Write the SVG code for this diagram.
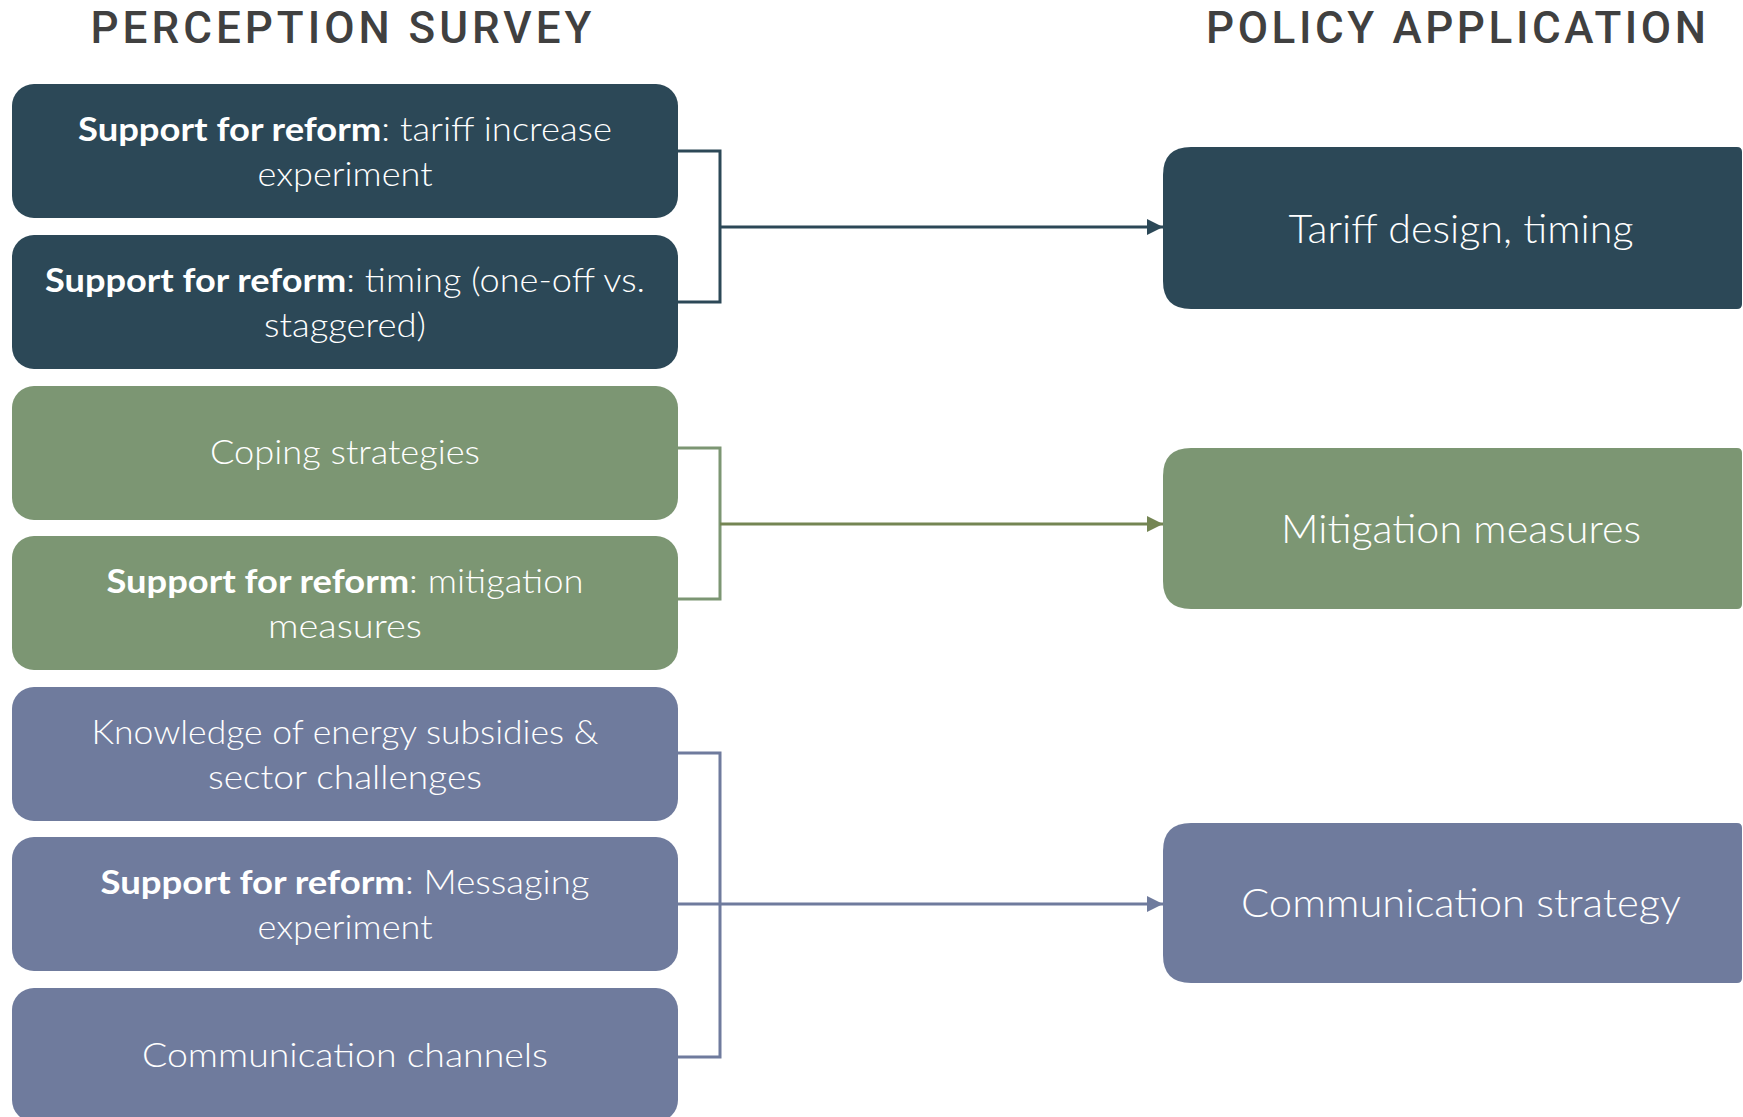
<svg xmlns="http://www.w3.org/2000/svg" width="1743" height="1117" viewBox="0 0 1743 1117">
<style>
  .title{font-family:Roboto,"Liberation Sans",sans-serif;font-size:44px;font-weight:500;fill:#404040;text-anchor:middle}
  .t{font-family:Lato,"Liberation Sans",sans-serif;font-size:33px;font-weight:300;fill:#ffffff;text-anchor:middle}
  .tr{font-family:Lato,"Liberation Sans",sans-serif;font-size:40px;font-weight:300;fill:#ffffff;text-anchor:middle}
  .b{font-weight:700}
  .teal{fill:#2C4857}
  .green{fill:#7C9673}
  .blue{fill:#6F7B9D}
  .con{fill:none;stroke-width:3}
</style>
<defs>
  <marker id="ahTeal" markerUnits="userSpaceOnUse" markerWidth="16" markerHeight="16" refX="16" refY="8" orient="auto"><path d="M0,0 L16,8 L0,16 Z" fill="#2C4857"/></marker>
  <marker id="ahGreen" markerUnits="userSpaceOnUse" markerWidth="16" markerHeight="16" refX="16" refY="8" orient="auto"><path d="M0,0 L16,8 L0,16 Z" fill="#748553"/></marker>
  <marker id="ahBlue" markerUnits="userSpaceOnUse" markerWidth="16" markerHeight="16" refX="16" refY="8" orient="auto"><path d="M0,0 L16,8 L0,16 Z" fill="#6F7B9D"/></marker>
</defs>

<text class="title" x="341" y="43" textLength="501" lengthAdjust="spacing">PERCEPTION SURVEY</text>
<text class="title" x="1456" y="43" textLength="500" lengthAdjust="spacing">POLICY APPLICATION</text>

<g id="connectors">
  <path class="con" stroke="#2C4857" d="M678 151 H720 V302 H678"/>
  <path class="con" stroke="#2C4857" stroke-width="3.5" d="M720 227 H1163" marker-end="url(#ahTeal)"/>
  <path class="con" stroke="#7C9673" d="M678 448 H720 V599 H678"/>
  <path class="con" stroke="#748553" stroke-width="3.5" d="M720 524 H1163" marker-end="url(#ahGreen)"/>
  <path class="con" stroke="#6F7B9D" d="M678 753 H720 V1057 H678"/>
  <path class="con" stroke="#6F7B9D" stroke-width="3.5" d="M678 904 H1163" marker-end="url(#ahBlue)"/>
</g>

<g id="s1">
  <rect class="teal" x="12" y="84" width="666" height="134" rx="22"/>
  <text class="t" x="345" y="141" textLength="534" lengthAdjust="spacingAndGlyphs"><tspan class="b">Support for reform</tspan>: tariff increase</text>
  <text class="t" x="345" y="186" textLength="175" lengthAdjust="spacingAndGlyphs">experiment</text>
</g>
<g id="s2">
  <rect class="teal" x="12" y="235" width="666" height="134" rx="22"/>
  <text class="t" x="345" y="292" textLength="600" lengthAdjust="spacingAndGlyphs"><tspan class="b">Support for reform</tspan>: timing (one-off vs.</text>
  <text class="t" x="345" y="337" textLength="162" lengthAdjust="spacingAndGlyphs">staggered)</text>
</g>
<g id="s3">
  <rect class="green" x="12" y="386" width="666" height="134" rx="22"/>
  <text class="t" x="345" y="464" textLength="270" lengthAdjust="spacingAndGlyphs">Coping strategies</text>
</g>
<g id="s4">
  <rect class="green" x="12" y="536" width="666" height="134" rx="22"/>
  <text class="t" x="345" y="593" textLength="477" lengthAdjust="spacingAndGlyphs"><tspan class="b">Support for reform</tspan>: mitigation</text>
  <text class="t" x="345" y="638" textLength="154" lengthAdjust="spacingAndGlyphs">measures</text>
</g>
<g id="s5">
  <rect class="blue" x="12" y="687" width="666" height="134" rx="22"/>
  <text class="t" x="345" y="744" textLength="507" lengthAdjust="spacingAndGlyphs">Knowledge of energy subsidies &amp;</text>
  <text class="t" x="345" y="789" textLength="274" lengthAdjust="spacingAndGlyphs">sector challenges</text>
</g>
<g id="s6">
  <rect class="blue" x="12" y="837" width="666" height="134" rx="22"/>
  <text class="t" x="345" y="894" textLength="489" lengthAdjust="spacingAndGlyphs"><tspan class="b">Support for reform</tspan>: Messaging</text>
  <text class="t" x="345" y="939" textLength="175" lengthAdjust="spacingAndGlyphs">experiment</text>
</g>
<g id="s7">
  <rect class="blue" x="12" y="988" width="666" height="134" rx="22"/>
  <text class="t" x="345" y="1067" textLength="406" lengthAdjust="spacingAndGlyphs">Communication channels</text>
</g>

<g id="p1">
  <path class="teal" d="M1191 147 H1737 Q1742 147 1742 152 V304 Q1742 309 1737 309 H1191 Q1163 309 1163 281 V175 Q1163 147 1191 147 Z"/>
  <text class="tr" x="1461" y="243" textLength="345" lengthAdjust="spacingAndGlyphs">Tariff design, timing</text>
</g>
<g id="p2">
  <path class="green" d="M1191 448 H1737 Q1742 448 1742 453 V604 Q1742 609 1737 609 H1191 Q1163 609 1163 581 V476 Q1163 448 1191 448 Z"/>
  <text class="tr" x="1461" y="543" textLength="360" lengthAdjust="spacingAndGlyphs">Mitigation measures</text>
</g>
<g id="p3">
  <path class="blue" d="M1191 823 H1737 Q1742 823 1742 828 V978 Q1742 983 1737 983 H1191 Q1163 983 1163 955 V851 Q1163 823 1191 823 Z"/>
  <text class="tr" x="1461" y="917" textLength="440" lengthAdjust="spacingAndGlyphs">Communication strategy</text>
</g>
</svg>
